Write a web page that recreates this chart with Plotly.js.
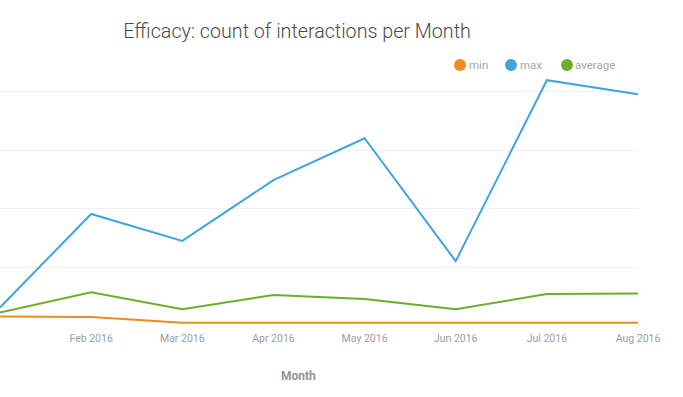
<!DOCTYPE html>
<html>
<head>
<meta charset="utf-8">
<script src="https://cdn.plot.ly/plotly-3.0.1.min.js"></script>
<style>html,body{margin:0;padding:0;background:#fff;}#chart{width:683px;height:397px;}</style>
</head>
<body>
<div id="chart"></div>
<script>
var months = ['Jan 2016','Feb 2016','Mar 2016','Apr 2016','May 2016','Jun 2016','Jul 2016','Aug 2016'];
var minVals = [3.2, 3.1, 1.1, 1.1, 1.1, 1.1, 1.1, 1.1];
var maxVals = [6.3, 38.2, 29.0, 49.7, 64.0, 22.1, 83.8, 79.0];
var avgVals = [4.6, 11.5, 5.7, 10.6, 9.2, 5.7, 10.9, 11.1];
var tickLabels = ['Feb 2016','Mar 2016','Apr 2016','May 2016','Jun 2016','Jul 2016','Aug 2016'];
var seriesNames = ['min','max','average'];
var colors = ['#EE8B22','#40A5DD','#6AAF2B'];

var series = [minVals, maxVals, avgVals];
var traces = series.map(function(vals, i){
  return {x: months, y: vals, type: 'scatter', mode: 'lines', name: seriesNames[i],
    line: {color: colors[i], width: 2}, showlegend: false};
});

// legend drawn as circles + text (pixel positions converted to paper coords)
var L = 0, R = 638, T = 62, B = 326;
function px(x){ return (x - L) / (R - L); }
function py(y){ return (B - y) / (B - T); }
var legCircleX = [460, 511, 567];
var legTextX = [467, 518, 573];
var legY = 65;
var shapes = [];
var annotations = [];
seriesNames.forEach(function(n, i){
  shapes.push({type: 'circle', xref: 'paper', yref: 'paper', xsizemode: 'pixel', ysizemode: 'pixel',
    xanchor: px(legCircleX[i]), yanchor: py(legY), x0: -6, x1: 6, y0: -6, y1: 6,
    fillcolor: colors[i], line: {width: 0}});
  annotations.push({text: n, xref: 'paper', yref: 'paper', x: px(legTextX[i]), y: py(legY),
    xanchor: 'left', yanchor: 'middle', showarrow: false, font: {size: 11.5, color: '#a3a9a9'}});
});
annotations.push({text: '<b>Month</b>', xref: 'paper', yref: 'paper', x: px(298), y: py(376),
  xanchor: 'center', yanchor: 'middle', showarrow: false, font: {size: 12, color: '#8d9595'}});

var layout = {
  width: 683, height: 397,
  margin: {l: L, r: 683 - R, t: T, b: 397 - B, pad: 0},
  paper_bgcolor: '#fff', plot_bgcolor: '#fff',
  font: {family: 'Roboto, sans-serif', color: '#9aa0a0', size: 11},
  title: {text: 'Efficacy: count of interactions per Month', x: 297/683, xanchor: 'center', y: 1 - 31/397, yanchor: 'middle',
    font: {family: 'Roboto, sans-serif', size: 19.7, color: '#4a4a4a', weight: 300}},
  showlegend: false,
  xaxis: {type: 'category', range: [0, 7], tickvals: tickLabels, ticktext: tickLabels,
    showgrid: false, zeroline: false, showline: false, ticks: '', ticklabelstandoff: 4,
    tickfont: {size: 10.5, color: '#9aa0a0'}, fixedrange: true},
  yaxis: {range: [0, 90], tickvals: [0, 20, 40, 60, 80], showticklabels: false, showgrid: true,
    gridcolor: '#f0f0f0', gridwidth: 1, zeroline: false, showline: false, ticks: '', fixedrange: true},
  shapes: shapes,
  annotations: annotations
};
Plotly.newPlot('chart', traces, layout, {displayModeBar: false, staticPlot: true});
</script>
</body>
</html>
